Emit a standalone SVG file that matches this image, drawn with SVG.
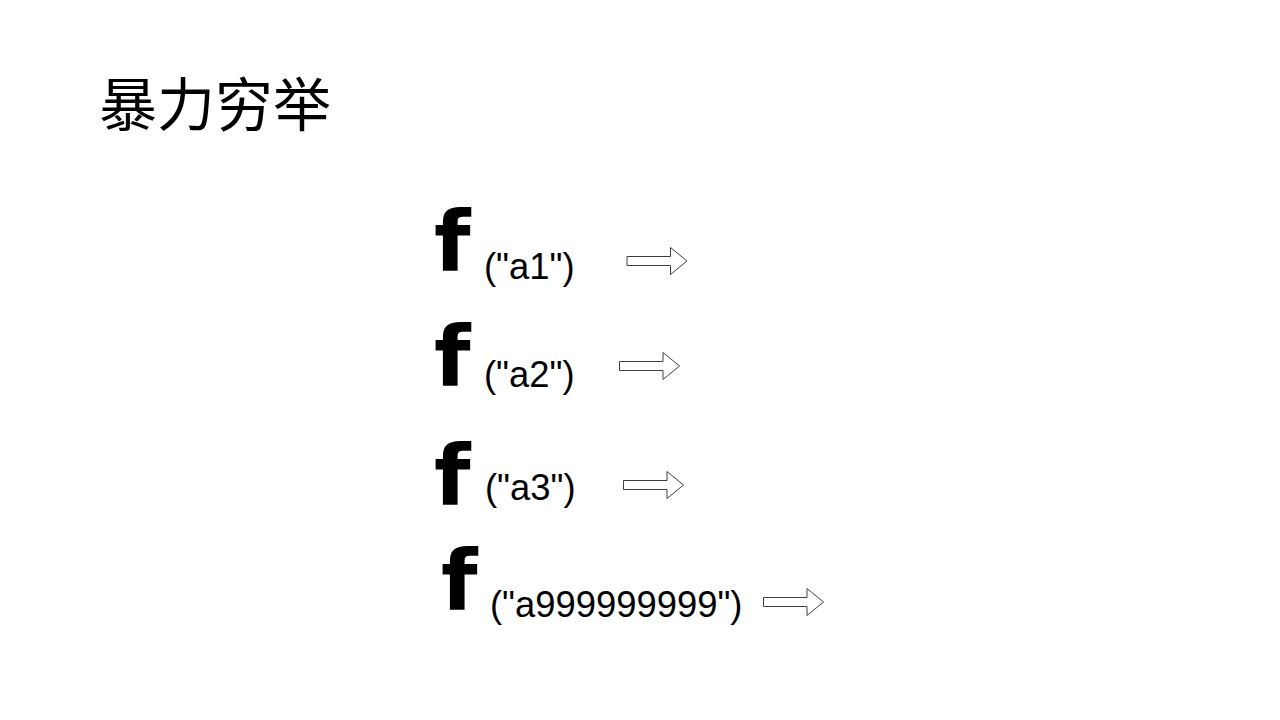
<svg xmlns="http://www.w3.org/2000/svg" xmlns:xlink="http://www.w3.org/1999/xlink" width="1280" height="720" viewBox="0 0 1280 720">
  <style>
    .title { font-family: "Liberation Serif", "Noto Sans CJK SC", serif; font-size: 58px; fill: #000; }
    .f { font-family: "DejaVu Sans", "Liberation Sans", sans-serif; font-weight: bold; font-size: 84px; fill: #000; }
    .arg { font-family: "Liberation Sans", Arial, sans-serif; font-size: 36.4px; fill: #000; }
    .arrow { fill: #fff; stroke: #404040; stroke-width: 1; }
  </style>
  <defs>
    <path id="blockArrow" class="arrow" d="M0,-4.5 H43.5 V-13.5 L60,0 L43.5,13.5 V4.5 H0 Z"/>
  </defs>
  <rect width="1280" height="720" fill="#fff"/>
  <g id="title">
    <text class="title" x="99" y="126">暴力穷举</text>
  </g>
  <g id="row1">
    <text class="f" x="434" y="271">f</text>
    <text class="arg" x="484" y="279">("a1")</text>
  </g>
  <g id="row2">
    <text class="f" x="434" y="386">f</text>
    <text class="arg" x="484" y="387">("a2")</text>
  </g>
  <g id="row3">
    <text class="f" x="434" y="505">f</text>
    <text class="arg" x="485" y="500">("a3")</text>
  </g>
  <g id="row4">
    <text class="f" x="441" y="610">f</text>
    <text class="arg" x="490" y="617">("a999999999")</text>
  </g>
  <g id="connectors">
    <use xlink:href="#blockArrow" x="627" y="261"/>
    <use xlink:href="#blockArrow" x="619.5" y="366"/>
    <use xlink:href="#blockArrow" x="623.5" y="485"/>
    <use xlink:href="#blockArrow" x="763.5" y="602"/>
  </g>
</svg>
